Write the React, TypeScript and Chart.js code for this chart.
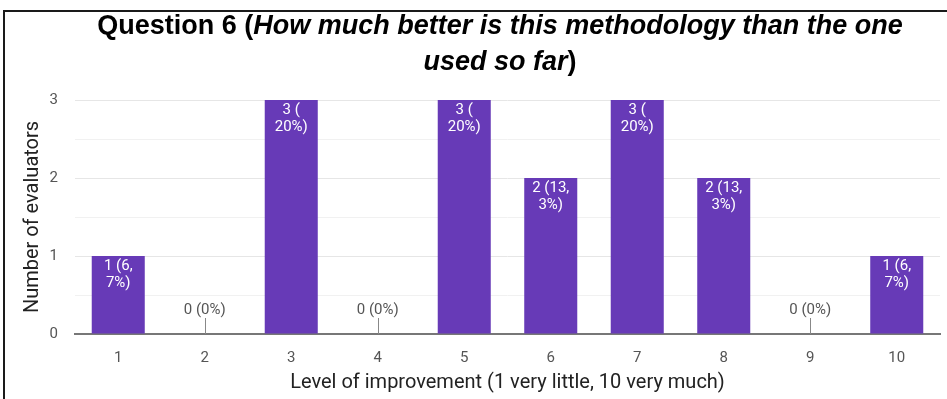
import React, { useEffect, useRef } from "react";
import { Chart, registerables } from "chart.js";

Chart.register(...registerables);

const categories = ["1", "2", "3", "4", "5", "6", "7", "8", "9", "10"];
const counts = [1, 0, 3, 0, 3, 2, 3, 2, 0, 1];
const barLabels = [
  ["1 (6,", "7%)"],
  ["0 (0%)"],
  ["3 (", "20%)"],
  ["0 (0%)"],
  ["3 (", "20%)"],
  ["2 (13,", "3%)"],
  ["3 (", "20%)"],
  ["2 (13,", "3%)"],
  ["0 (0%)"],
  ["1 (6,", "7%)"],
];
const yTickLabels = ["0", "1", "2", "3"];
const titleLine1 = [
  { text: "Question 6 (", italic: false },
  { text: "How much better is this methodology than the one", italic: true },
];
const titleLine2 = [
  { text: "used so far", italic: true },
  { text: ")", italic: false },
];
const xTitle = "Level of improvement (1 very little, 10 very much)";
const yTitle = "Number of evaluators";

const BAR_COLOR = "#673ab7";
const FONT = "Roboto, 'Liberation Sans', Arial, sans-serif";
const TITLE_FONT = "'Liberation Sans', Arial, sans-serif";

const decorPlugin = {
  id: "decor",
  afterDraw(chart: any) {
    const ctx = chart.ctx as CanvasRenderingContext2D;
    const w = chart.width;
    const h = chart.height;
    ctx.save();
    // frame
    ctx.strokeStyle = "#1a1a1a";
    ctx.lineWidth = 2;
    ctx.beginPath();
    ctx.moveTo(w, 11);
    ctx.lineTo(4, 11);
    ctx.lineTo(4, h);
    ctx.stroke();

    // title
    const size = 27;
    const drawLine = (parts: { text: string; italic: boolean }[], cy: number) => {
      let total = 0;
      const widths = parts.map((p) => {
        ctx.font = `${p.italic ? "italic " : ""}bold ${size}px ${TITLE_FONT}`;
        const m = ctx.measureText(p.text).width;
        total += m;
        return m;
      });
      let x = 500 - total / 2;
      ctx.fillStyle = "#000";
      ctx.textBaseline = "middle";
      ctx.textAlign = "left";
      parts.forEach((p, i) => {
        ctx.font = `${p.italic ? "italic " : ""}bold ${size}px ${TITLE_FONT}`;
        ctx.fillText(p.text, x, cy);
        x += widths[i];
      });
    };
    drawLine(titleLine1, 27);
    drawLine(titleLine2, 63);

    // data labels
    const meta = chart.getDatasetMeta(0);
    const yScale = chart.scales.y;
    const base = yScale.getPixelForValue(0);
    ctx.font = `15px ${FONT}`;
    ctx.textAlign = "center";
    meta.data.forEach((bar: any, i: number) => {
      const v = counts[i];
      const lines = barLabels[i];
      if (v === 0) {
        ctx.strokeStyle = "#888";
        ctx.lineWidth = 1;
        ctx.beginPath();
        ctx.moveTo(Math.round(bar.x) + 0.5, base);
        ctx.lineTo(Math.round(bar.x) + 0.5, base - 16);
        ctx.stroke();
        ctx.fillStyle = "#555";
        ctx.textBaseline = "middle";
        ctx.fillText(lines.join(" "), bar.x, base - 24);
      } else {
        ctx.fillStyle = "#ffffff";
        ctx.textBaseline = "middle";
        lines.forEach((ln, k) => {
          ctx.fillText(ln, bar.x, bar.y + 10 + k * 17);
        });
      }
    });
    ctx.restore();
  },
};

export default function App() {
  const ref = useRef<HTMLCanvasElement | null>(null);
  useEffect(() => {
    document.body.style.margin = "0";
    document.body.style.background = "#fff";
    const canvas = ref.current;
    if (!canvas) return;
    const chart = new Chart(canvas, {
      type: "bar",
      data: {
        labels: categories,
        datasets: [
          {
            data: counts,
            backgroundColor: BAR_COLOR,
            borderWidth: 0,
            barPercentage: 0.613,
            categoryPercentage: 1,
          },
        ],
      },
      options: {
        animation: false,
        responsive: false,
        maintainAspectRatio: false,
        layout: { padding: { top: 100, right: 7, bottom: 0, left: 0 } },
        plugins: {
          legend: { display: false },
          tooltip: { enabled: false },
          title: { display: false },
        },
        scales: {
          x: {
            grid: { display: false },
            border: { display: true, color: "#777", width: 2 },
            ticks: {
              color: "#555",
              font: { family: FONT, size: 15 },
              padding: 7,
            },
            title: {
              display: true,
              text: xTitle,
              color: "#222",
              font: { family: FONT, size: 20 },
              padding: { top: 0, bottom: 4 },
            },
            afterFit: (s: any) => {
              s.height = 65;
            },
          },
          y: {
            min: 0,
            max: 3,
            border: { display: false },
            grid: {
              drawTicks: false,
              color: (c: any) =>
                Number.isInteger(c.tick.value) ? "#e6e6e6" : "#f1f1f1",
              lineWidth: 1,
            },
            ticks: {
              stepSize: 0.5,
              color: "#555",
              font: { family: FONT, size: 15 },
              padding: 17,
              callback: (v: any) =>
                Number.isInteger(v) ? yTickLabels[v as number] : "",
            },
            title: {
              display: true,
              text: yTitle,
              color: "#222",
              font: { family: FONT, size: 20 },
              padding: { top: 21, bottom: 0 },
            },
            afterFit: (s: any) => {
              s.width = 75;
            },
          },
        },
      },
      plugins: [decorPlugin],
    });
    return () => chart.destroy();
  }, []);
  return (
    <div style={{ width: 947, height: 399, position: "relative" }}>
      <canvas ref={ref} width={947} height={399} style={{ display: "block" }} />
    </div>
  );
}
